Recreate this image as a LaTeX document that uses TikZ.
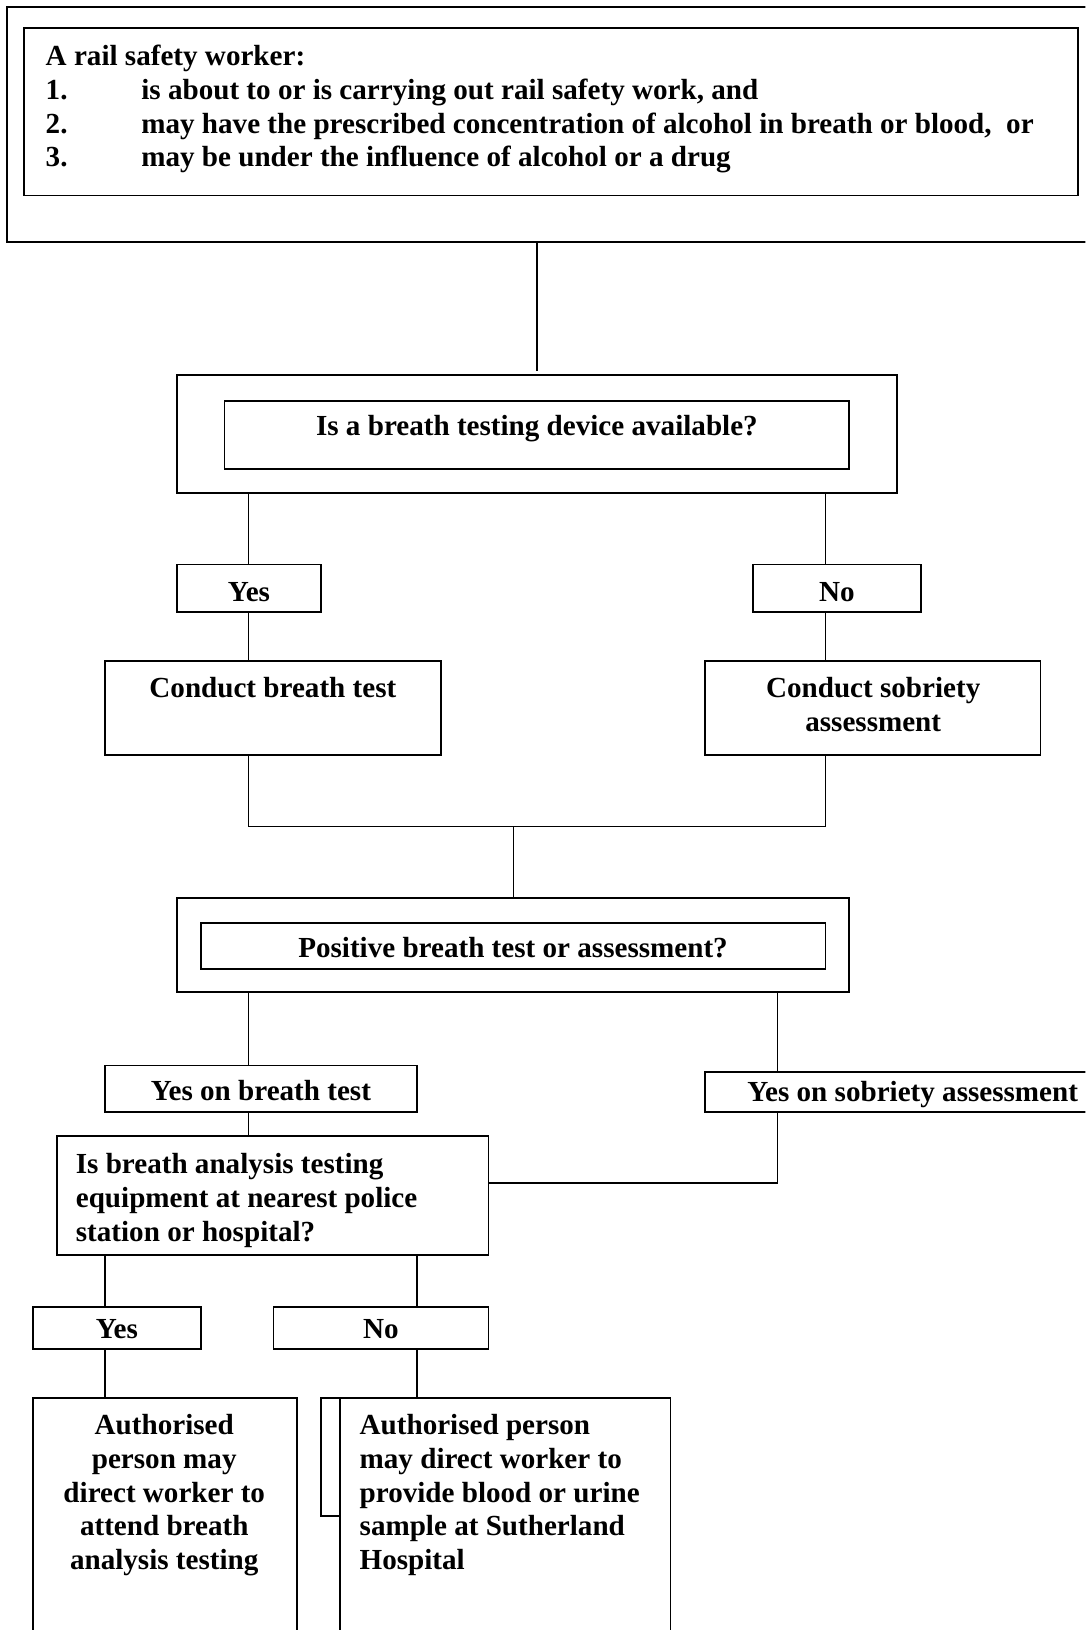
\documentclass[tikz,border=0pt]{standalone}
\usepackage{fontspec}
\setmainfont{Liberation Serif}
\newcommand\mkbox[5]{\node[bx, minimum width={(#4-#2)*1pt}, minimum height={(#5-#3)*1pt}] (#1) at ({(#2+#4)/2},{(#3+#5)/2}) {};}
\tikzset{
  bx/.style={draw, line width=1.7pt, inner sep=0pt, outer sep=0pt},
  ln/.style={line width=1.4pt},
  txt/.style={font=\fontsize{28}{32.5}\selectfont\bfseries, inner sep=0pt, outer sep=0pt},
}
\begin{document}
\begin{tikzpicture}[x=1pt,y=-1pt]
\useasboundingbox (0,0) rectangle (1044,1568);
\clip (0,0) rectangle (1044,1568);
% boxes
\mkbox{topo}{7}{7}{1070}{233}
\mkbox{topi}{23}{27}{1037}{188}
\mkbox{q1o}{170}{361}{863}{474}
\mkbox{q1i}{216}{386}{817}{451}
\mkbox{yes1}{170}{543}{309}{589}
\mkbox{no1}{724}{543}{886}{589}
\mkbox{cbt}{101}{636}{424}{726}
\mkbox{csa}{678}{636}{1001}{726}
\mkbox{q2o}{170}{864}{817}{954}
\mkbox{q2i}{193}{888}{794}{932}
\mkbox{ybt}{101}{1025}{401}{1070}
\mkbox{ysa}{678}{1031}{1080}{1070}
\mkbox{ba}{55}{1093}{470}{1207}
\mkbox{yes2}{32}{1257}{193}{1298}
\mkbox{no2}{263}{1257}{470}{1298}
\mkbox{sb}{309}{1345}{327}{1458}
\mkbox{bl}{32}{1345}{286}{1590}
\mkbox{br}{327}{1345}{645}{1590}
% texts
\node[txt, anchor=base west, text width=1000pt, align=flush left] (t0) at (44,63)
  {A rail safety worker:\\
   \makebox[92pt][l]{1.}is about to or is carrying out rail safety work, and\\
   \makebox[92pt][l]{2.}may have the prescribed concentration of alcohol in breath or blood,~ or\\
   \makebox[92pt][l]{3.}may be under the influence of alcohol or a drug};
\node[txt, anchor=base] (t1) at (516.5,419) {Is a breath testing device available?};
\node[txt, anchor=base] (t2) at (239.5,579) {Yes};
\node[txt, anchor=base] (t3) at (805,579) {No};
\node[txt, anchor=base] (t4) at (262.5,671) {Conduct breath test};
\node[txt, anchor=base, text width=320pt, align=flush center] (t5) at (840,671) {Conduct sobriety\\assessment};
\node[txt, anchor=base] (t6) at (493.5,921) {Positive breath test or assessment?};
\node[txt, anchor=base] (t7) at (251,1059) {Yes on breath test};
\node[txt, anchor=base] (t8) at (878,1060) {Yes on sobriety assessment};
\node[txt, anchor=base west, text width=400pt, align=flush left] (t9) at (73,1129)
  {Is breath analysis testing\\equipment at nearest police\\station or hospital?};
\node[txt, anchor=base] (t10) at (112.5,1288) {Yes};
\node[txt, anchor=base] (t11) at (366.5,1288) {No};
\node[txt, anchor=base, text width=250pt, align=flush center] (t12) at (158,1380)
  {Authorised\\person may\\direct worker to\\attend breath\\analysis testing};
\node[txt, anchor=base west, text width=300pt, align=flush left] (t13) at (346,1380)
  {Authorised person\\may direct worker to\\provide blood or urine\\sample at Sutherland\\Hospital};
% rails and junctions
\coordinate (r794) at (794,0);
\coordinate (r239) at (239,0);
\coordinate (r748) at (748,0);
\coordinate (r101) at (101,0);
\coordinate (r401) at (401,0);
\coordinate (j1) at (494,795);
\coordinate (j2) at (470,1138);
% connectors
\draw[ln] (topo.south -| q1o.north) -- ([yshift=4pt]q1o.north);
\draw[ln] (r239 |- q1o.south) -- (r239 |- yes1.north);
\draw[ln] (r794 |- q1o.south) -- (r794 |- no1.north);
\draw[ln] (r239 |- yes1.south) -- (r239 |- cbt.north);
\draw[ln] (r794 |- no1.south) -- (r794 |- csa.north);
\draw[ln] (r239 |- cbt.south) -- (r239 |- j1) -- (r794 |- j1) -- (r794 |- csa.south);
\draw[ln] (j1) -- (j1 |- q2o.north);
\draw[ln] (r239 |- q2o.south) -- (r239 |- ybt.north);
\draw[ln] (r748 |- q2o.south) -- (r748 |- ysa.north);
\draw[ln] (r239 |- ybt.south) -- (r239 |- ba.north);
\draw[ln] (r748 |- ysa.south) -- (r748 |- j2) -- (j2);
\draw[ln] (r101 |- ba.south) -- (r101 |- yes2.north);
\draw[ln] (r401 |- ba.south) -- (r401 |- no2.north);
\draw[ln] (r101 |- yes2.south) -- (r101 |- bl.north);
\draw[ln] (r401 |- no2.south) -- (r401 |- br.north);
\end{tikzpicture}
\end{document}
